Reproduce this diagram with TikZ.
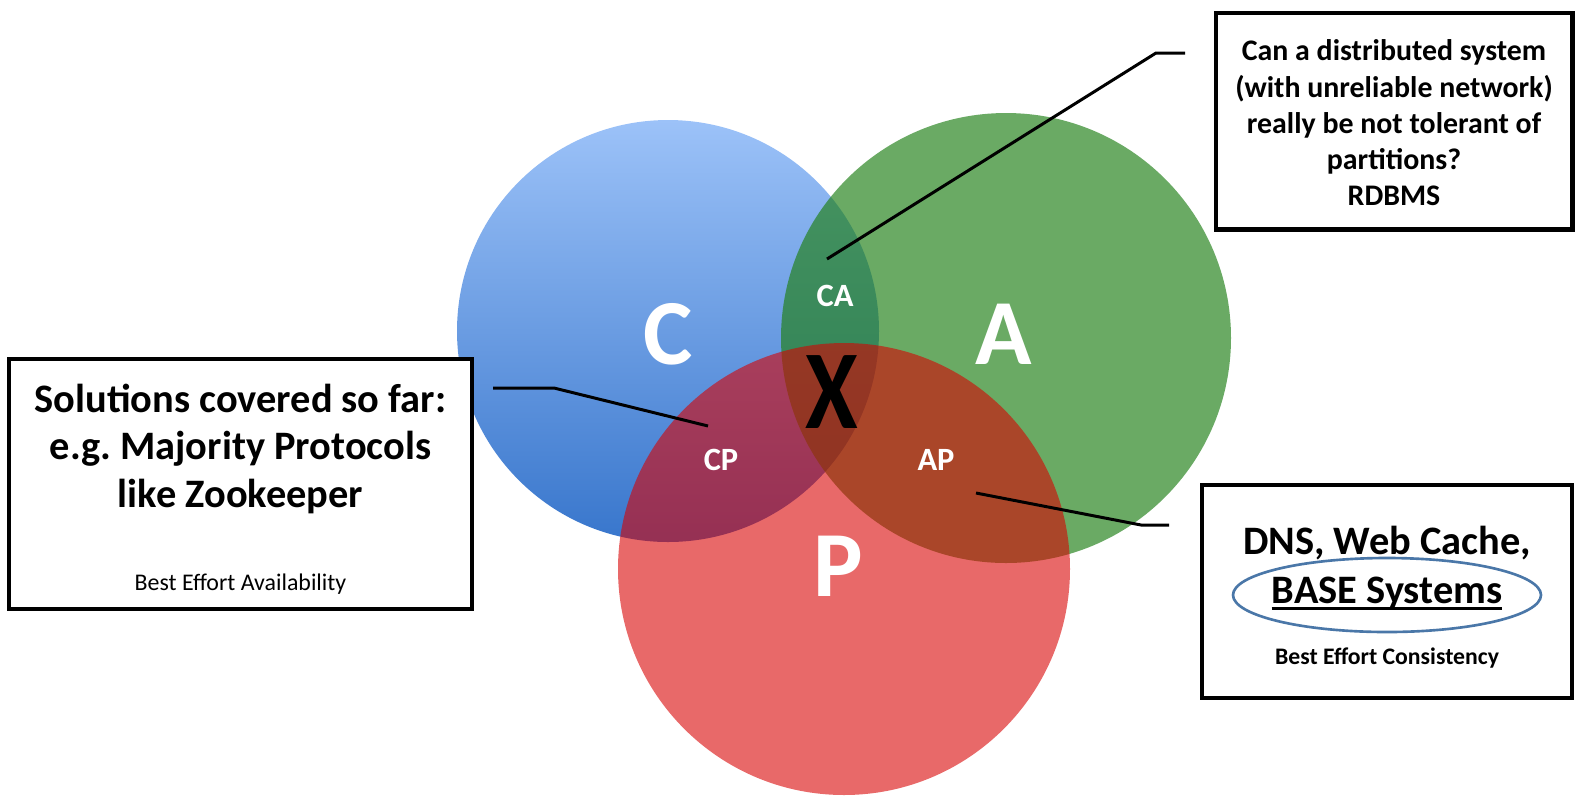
\documentclass[tikz,border=0pt]{standalone}
\usepackage{fontspec}
\setmainfont{Carlito}
\usepackage{tikz}
\usetikzlibrary{positioning}
\definecolor{cbluetop}{RGB}{156,194,248}
\definecolor{cbluebot}{RGB}{56,118,204}
\definecolor{agreen}{RGB}{33,128,24}
\definecolor{pred}{RGB}{216,0,0}
\definecolor{ovalblue}{RGB}{74,119,168}
\newcommand{\baseul}[1]{\setbox0=\hbox{#1}\rlap{\rule[-3.7pt]{\wd0}{1.7pt}}\box0}
\tikzstyle{infobox} = [rectangle, draw=black, line width=2.3pt, fill=white, inner sep=0pt]
\tikzstyle{boxtext} = [align=center, inner sep=0pt, font=\bfseries]
\tikzstyle{setletter} = [text=white, font=\bfseries\fontsize{53}{53}\selectfont]
\tikzstyle{zonelabel} = [text=white, font=\bfseries\fontsize{18.5}{19}\selectfont]
\tikzstyle{leader} = [line width=1.7pt, line join=round]
\tikzstyle{ovalline} = [draw=ovalblue, line width=1.5pt]

\begin{document}
\begin{tikzpicture}[x=0.02cm, y=-0.02cm]
\useasboundingbox (0,0) rectangle (1586,799);
% the three sets
\shade[top color=cbluetop, bottom color=cbluebot] (668,331) circle (211);
\fill[agreen, fill opacity=0.67] (1006,338) circle (225);
\fill[pred, fill opacity=0.59] (844,569) circle (226);
\node[setletter] (lblC) at (668,334) {C};
\node[setletter] (lblA) at (1004,334) {A};
\node[setletter] (lblP) at (838,566) {P};
\node[zonelabel] (lblCA) at (835,296) {CA};
\node[zonelabel] (lblCP) at (721,460) {CP};
\node[zonelabel] (lblAP) at (936,460) {AP};
\node[font=\bfseries\fontsize{64}{64}\selectfont, xscale=0.85] (nope) at (832,392) {X};
% boxes
\node (rdbms) [infobox, minimum width=7.14cm, minimum height=4.34cm] at (1394,121) {};
\node (rdbmstext) [boxtext, font=\bfseries\fontsize{17}{20.6}\selectfont] at ([yshift=-0.04cm]rdbms.center) {Can a distributed system\\(with unreliable network)\\really be not tolerant of\\partitions?\\RDBMS};
\node (solutions) [infobox, minimum width=9.26cm, minimum height=5cm] at (240.5,484) {};
\node (soltext) [boxtext, font=\bfseries\fontsize{23}{27.2}\selectfont] at ([yshift=-0.1cm]solutions.center) {Solutions covered so far:\\e.g.\ Majority Protocols\\like Zookeeper\\[20pt]{\mdseries\fontsize{13.6}{15}\selectfont Best Effort Availability}};
\node (base) [infobox, minimum width=7.4cm, minimum height=4.26cm] at (1387,591.5) {};
\node (basetext) [boxtext, font=\bfseries\fontsize{23}{28.35}\selectfont] at ([yshift=-0.11cm]base.center) {DNS, Web Cache,\\\baseul{BASE Systems}\\[6.2pt]{\fontsize{13.5}{15}\selectfont Best Effort Consistency}};
\draw[ovalline] (1387,595) ellipse [x radius=154, y radius=37];
% leaders
\coordinate (cafoot) at (827,259);
\coordinate (caknee) at (1156,53);
\coordinate (caend) at (1185,53);
\coordinate (cpfoot) at (708,426);
\coordinate (cpknee) at (554,388);
\coordinate (cpend) at (493,388);
\coordinate (apfoot) at (976,493);
\coordinate (apknee) at (1141,525);
\coordinate (apend) at (1169,525);
\draw[leader] (cafoot) -- (caknee) -- (caend);
\draw[leader] (cpfoot) -- (cpknee) -- (cpend);
\draw[leader] (apfoot) -- (apknee) -- (apend);
\end{tikzpicture}
\end{document}
